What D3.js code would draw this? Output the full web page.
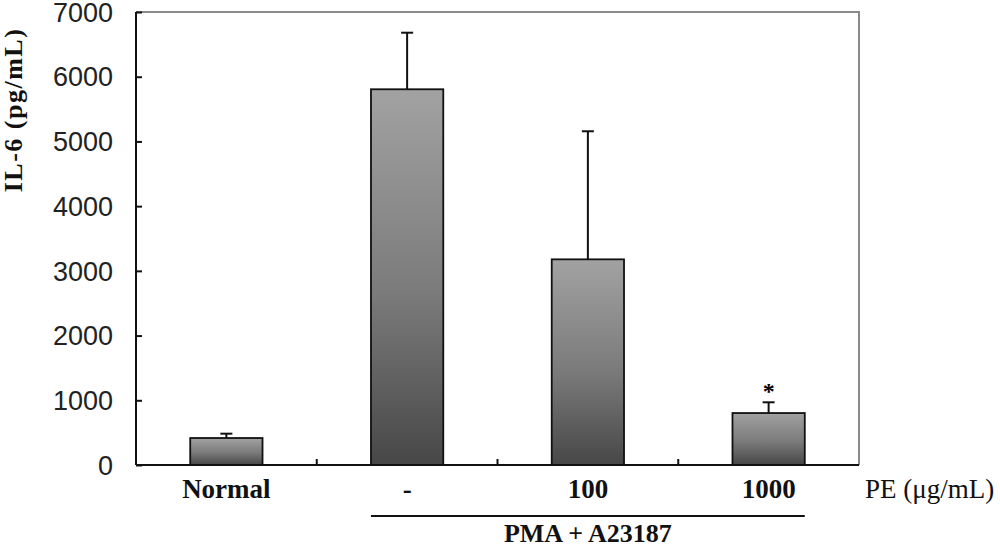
<!DOCTYPE html>
<html>
<head>
<meta charset="utf-8">
<script src="https://cdn.jsdelivr.net/npm/d3@7"></script>
<style>
  body { margin: 0; background: #fff; }
  svg { display: block; }
</style>
</head>
<body>
<svg id="chart" width="1000" height="549"></svg>
<script>
// IL-6 release, bars = mean, error = upper SD
const groups = ["Normal", "-", "100", "1000"];
const il6_mean = [417, 5806, 3178, 803];
const il6_err = [67, 874, 1979, 166];
const signif = ["", "", "", "*"];
const y_ticks = [0, 1000, 2000, 3000, 4000, 5000, 6000, 7000];

const fig_margin = {top: 12, right: 141, bottom: 84, left: 136};
const fig_width = 1000 - fig_margin.left - fig_margin.right;
const fig_height = 549 - fig_margin.top - fig_margin.bottom;

const svg = d3.select('#chart');

const xscale = d3.scaleBand()
    .domain(groups)
    .range([fig_margin.left, fig_margin.left + fig_width])
    .padding(0);
const yscale = d3.scaleLinear()
    .domain([0, 7000])
    .range([fig_margin.top + fig_height, fig_margin.top]);

const barw = xscale.bandwidth() * 0.4;

// bar gradient, light on top -> dark at the bottom
const grad = svg.append('defs').append('linearGradient')
    .attr('id', 'bargrad')
    .attr('x1', 0).attr('y1', 0).attr('x2', 0).attr('y2', 1);
grad.append('stop').attr('offset', '0%').attr('stop-color', '#a2a2a2');
grad.append('stop').attr('offset', '55%').attr('stop-color', '#7a7a7a');
grad.append('stop').attr('offset', '100%').attr('stop-color', '#474747');

// grey frame (top + right)
svg.append('path')
    .attr('d', `M${fig_margin.left},${yscale(7000)}H${fig_margin.left + fig_width}V${yscale(0)}`)
    .attr('fill', 'none')
    .attr('stroke', '#8a8a8a')
    .attr('stroke-width', 2);

const data = groups.map((g, i) => ({g: g, m: il6_mean[i], e: il6_err[i], s: signif[i]}));

// error bars (upper only)
const err = svg.append('g').attr('stroke', '#111').attr('stroke-width', 2);
err.selectAll('line.v').data(data).join('line')
    .attr('class', 'v')
    .attr('x1', d => xscale(d.g) + xscale.bandwidth() / 2)
    .attr('x2', d => xscale(d.g) + xscale.bandwidth() / 2)
    .attr('y1', d => yscale(d.m))
    .attr('y2', d => yscale(d.m + d.e));
err.selectAll('line.c').data(data).join('line')
    .attr('class', 'c')
    .attr('x1', d => xscale(d.g) + xscale.bandwidth() / 2 - 6)
    .attr('x2', d => xscale(d.g) + xscale.bandwidth() / 2 + 6)
    .attr('y1', d => yscale(d.m + d.e))
    .attr('y2', d => yscale(d.m + d.e));

svg.append('g').selectAll('rect').data(data).join('rect')
    .attr('x', d => xscale(d.g) + (xscale.bandwidth() - barw) / 2)
    .attr('y', d => yscale(d.m))
    .attr('width', barw)
    .attr('height', d => yscale(0) - yscale(d.m))
    .attr('fill', 'url(#bargrad)')
    .attr('stroke', '#111')
    .attr('stroke-width', 1.8);

// significance mark
svg.append('g').selectAll('text').data(data.filter(d => d.s)).join('text')
    .attr('x', d => xscale(d.g) + xscale.bandwidth() / 2)
    .attr('y', d => yscale(d.m + d.e) - 3)
    .attr('text-anchor', 'middle')
    .attr('font-family', 'Liberation Serif, serif')
    .attr('font-weight', 'bold')
    .attr('font-size', 24)
    .text(d => d.s);

// y axis, ticks point inward
const yaxis = svg.append('g')
    .attr('transform', `translate(${fig_margin.left},0)`)
    .call(d3.axisRight(yscale).tickValues(y_ticks).tickSize(6).tickFormat(''));
yaxis.select('.domain').attr('stroke', '#111').attr('stroke-width', 2).attr('d', `M0,${yscale(7000)}V${yscale(0)}`);
yaxis.selectAll('.tick line').attr('stroke', '#111').attr('stroke-width', 2);

svg.append('g').selectAll('text').data(y_ticks).join('text')
    .attr('x', 113)
    .attr('y', d => yscale(d))
    .attr('dy', '0.36em')
    .attr('text-anchor', 'end')
    .attr('font-family', 'Liberation Sans, Arial, sans-serif')
    .attr('font-size', 27)
    .attr('fill', '#222')
    .text(d => d);

// x axis with inward ticks at group boundaries
const xb = fig_margin.top + fig_height;
svg.append('line')
    .attr('x1', fig_margin.left).attr('x2', fig_margin.left + fig_width)
    .attr('y1', xb).attr('y2', xb)
    .attr('stroke', '#111').attr('stroke-width', 2);
svg.append('g').selectAll('line').data(groups.slice(1)).join('line')
    .attr('x1', d => xscale(d)).attr('x2', d => xscale(d))
    .attr('y1', xb).attr('y2', xb - 6)
    .attr('stroke', '#111').attr('stroke-width', 2);

svg.append('g').selectAll('text').data(groups).join('text')
    .attr('x', d => xscale(d) + xscale.bandwidth() / 2)
    .attr('y', 498)
    .attr('text-anchor', 'middle')
    .attr('font-family', 'Liberation Serif, Times New Roman, serif')
    .attr('font-weight', 'bold')
    .attr('font-size', 27)
    .attr('fill', '#111')
    .text(d => d);

svg.append('text')
    .attr('x', 865).attr('y', 498)
    .attr('font-family', 'Liberation Serif, Times New Roman, serif')
    .attr('font-size', 27)
    .attr('fill', '#111')
    .text('PE (\u03bcg/mL)');

// PMA + A23187 bracket under the treated groups
const lx1 = xscale('-') + (xscale.bandwidth() - barw) / 2;
const lx2 = xscale('1000') + (xscale.bandwidth() + barw) / 2;
svg.append('line')
    .attr('x1', lx1).attr('x2', lx2)
    .attr('y1', 516).attr('y2', 516)
    .attr('stroke', '#111').attr('stroke-width', 2);
svg.append('text')
    .attr('x', (lx1 + lx2) / 2).attr('y', 542)
    .attr('text-anchor', 'middle')
    .attr('font-family', 'Liberation Serif, Times New Roman, serif')
    .attr('font-weight', 'bold')
    .attr('font-size', 26)
    .attr('fill', '#111')
    .text('PMA + A23187');

// y title
svg.append('text')
    .attr('transform', `translate(22,110) rotate(-90)`)
    .attr('text-anchor', 'middle')
    .attr('font-family', 'Liberation Serif, Times New Roman, serif')
    .attr('font-weight', 'bold')
    .attr('font-size', 26)
    .attr('letter-spacing', 1.5)
    .attr('fill', '#111')
    .text('IL-6 (pg/mL)');
</script>
</body>
</html>
